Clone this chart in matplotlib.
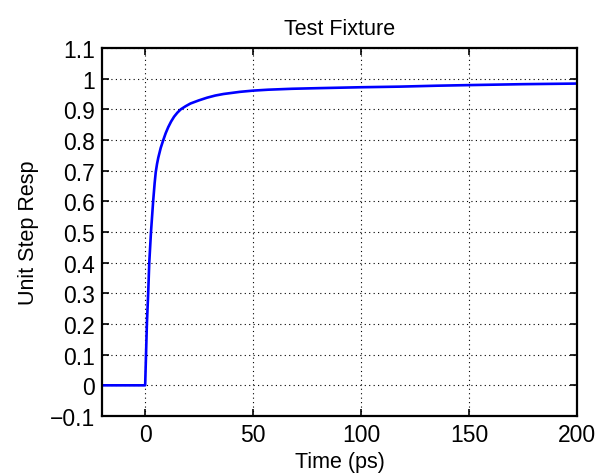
import matplotlib
matplotlib.use("Agg")
import matplotlib.pyplot as plt
from matplotlib.ticker import FuncFormatter

# step response samples, time in ps
t_ps = [-20, 0, 0.8, 1.4, 1.9, 2.7, 3.7, 4.4, 4.9, 5.5, 6.1, 7.2, 8.4, 9.5,
        10.7, 12, 13.4, 14.9, 16.5, 18.7, 21, 24.8, 28.7, 32.5, 36.3, 43.9,
        50, 57, 68, 80, 100, 118, 135, 150, 175, 200]
resp = [0, 0, 0.2, 0.3, 0.4, 0.5, 0.6, 0.66, 0.695, 0.722, 0.743, 0.774, 0.8, 0.822,
        0.842, 0.86, 0.876, 0.889, 0.9, 0.91, 0.919, 0.929, 0.938, 0.945, 0.95, 0.957,
        0.961, 0.964, 0.967, 0.969, 0.972, 0.974, 0.977, 0.979, 0.982, 0.984]

x_ticks = [0, 50, 100, 150, 200]
y_ticks = [-0.1, 0, 0.1, 0.2, 0.3, 0.4, 0.5, 0.6, 0.7, 0.8, 0.9, 1.0, 1.1]


def tick_fmt(v, pos):
    return ('%g' % round(v, 2)).replace('-', '\u2212')


plt.rcParams['font.family'] = ['Liberation Sans', 'DejaVu Sans']

fig = plt.figure(figsize=(6.02, 4.77), dpi=100)
ax = fig.add_axes([0.1694, 0.1258, 0.789, 0.7715])

ax.plot(t_ps, resp, color='#0000ff', lw=1.9)

ax.set_xlim(-20, 200)
ax.set_ylim(-0.1, 1.1)
ax.set_xticks(x_ticks)
ax.set_yticks(y_ticks)
ax.xaxis.set_major_formatter(FuncFormatter(tick_fmt))
ax.yaxis.set_major_formatter(FuncFormatter(tick_fmt))

ax.grid(True, linestyle=(0, (1, 3)), color='black', linewidth=0.8)
ax.tick_params(direction='in', length=5, width=1.2, labelsize=16.5,
               top=True, right=True, pad=5)
for s in ax.spines.values():
    s.set_linewidth(1.6)

ax.set_title('Test Fixture', fontsize=15.5, pad=10)
ax.set_xlabel('Time (ps)', fontsize=15.5, labelpad=4)
ax.set_ylabel('Unit Step Resp', fontsize=15.5, labelpad=8)

fig.savefig('out.png', dpi=100)
